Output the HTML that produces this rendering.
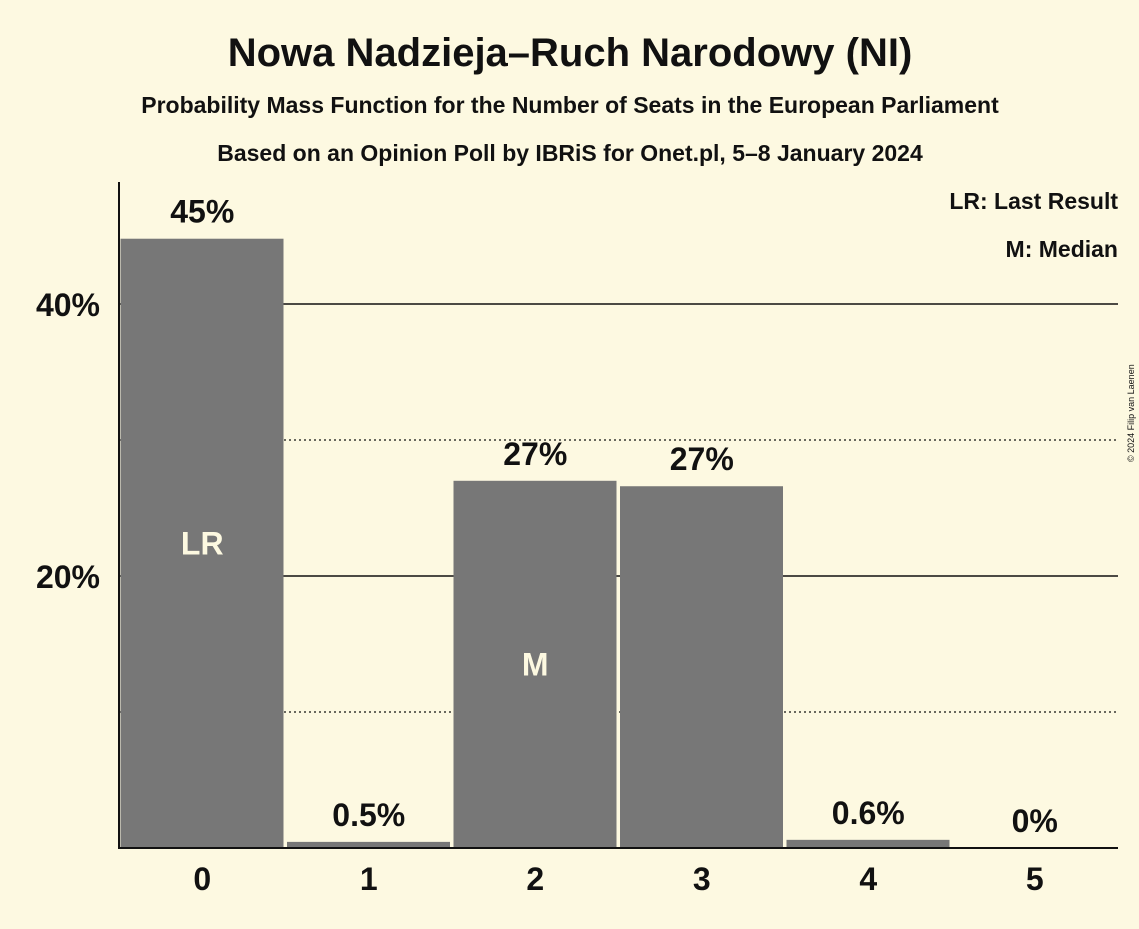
<!DOCTYPE html>
<html><head><meta charset="utf-8"><style>
body{margin:0;background:#fdf9e1;width:1139px;height:924px;overflow:hidden}
svg text{font-family:"Liberation Sans",sans-serif;fill:#111}
</style></head><body>
<svg id="chart" width="1139" height="924">
<text x="570" y="66" text-anchor="middle" font-size="40" font-weight="bold">Nowa Nadzieja–Ruch Narodowy (NI)</text>
<text x="570" y="113" text-anchor="middle" font-size="23" font-weight="bold">Probability Mass Function for the Number of Seats in the European Parliament</text>
<text x="570" y="161" text-anchor="middle" font-size="23" font-weight="bold">Based on an Opinion Poll by IBRiS for Onet.pl, 5–8 January 2024</text>
<text x="1118" y="209" text-anchor="end" font-size="23" font-weight="bold">LR: Last Result</text>
<text x="1118" y="257" text-anchor="end" font-size="23" font-weight="bold">M: Median</text>
<text transform="translate(1134,462) rotate(-90)" font-size="9" fill="#333">© 2024 Filip van Laenen</text>
<g id="grid"></g><g id="bars"></g><g id="labels"></g>
<line x1="119" y1="182" x2="119" y2="849" stroke="#111" stroke-width="2"/>
<line x1="118" y1="848" x2="1118" y2="848" stroke="#111" stroke-width="2"/>
</svg>
<script>
const seats=[0,1,2,3,4,5];
const probs=[44.8,0.45,27.0,26.6,0.6,0];
const probLabels=["45%","0.5%","27%","27%","0.6%","0%"];
const gridVals=[10,20,30,40];
const tickLabels={20:"20%",40:"40%"};
const marks={0:"LR",2:"M"};
const ns="http://www.w3.org/2000/svg";
const x0=119,slot=166.5,y0=848,k=13.6;
const X=i=>x0+i*slot, Y=v=>y0-v*k;
function mk(t,a,p){const e=document.createElementNS(ns,t);for(const n in a)e.setAttribute(n,a[n]);p.appendChild(e);return e;}
const g=document.getElementById('grid'),b=document.getElementById('bars'),l=document.getElementById('labels');
gridVals.forEach(v=>{
 const solid=v%20===0;
 const ln=mk('line',{x1:x0,x2:1118,y1:Y(v),y2:Y(v),stroke:'#111','stroke-width':solid?1.5:1.2,'stroke-dasharray':solid?'none':'2,3'},g);
 
 
 if(tickLabels[v]){const t=mk('text',{x:100,y:Y(v)+12,'text-anchor':'end','font-size':32,'font-weight':'bold'},g);t.textContent=tickLabels[v];
 
 }
});
seats.forEach((s,i)=>{
 const r=mk('rect',{x:X(i)+1.5,y:Y(probs[i]),width:slot-3.5,height:probs[i]*k,fill:'#777'},b);
 
 
 const cx=X(i)+slot/2;
 const t=mk('text',{x:cx,y:Y(probs[i])-16,'text-anchor':'middle','font-size':32,'font-weight':'bold'},l);t.textContent=probLabels[i];
 
 
 const xt=mk('text',{x:cx,y:890,'text-anchor':'middle','font-size':32,'font-weight':'bold'},l);xt.textContent=s;
 
 
 if(marks[i]){const m=mk('text',{x:cx,y:Y(probs[i]/2)+11,'text-anchor':'middle','font-size':32,'font-weight':'bold',style:'fill:#fdf9e1'},l);m.textContent=marks[i];
 
 }
});
</script>
</body></html>
